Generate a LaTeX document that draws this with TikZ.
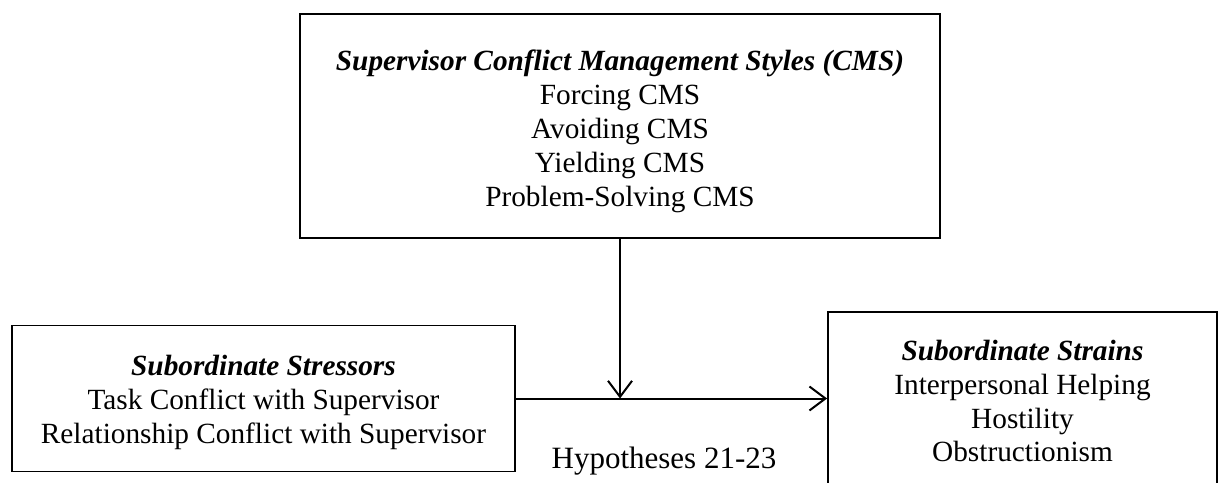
\documentclass[tikz,border=0pt]{standalone}
\usepackage{fontspec}
\setmainfont{Liberation Serif}
\usetikzlibrary{arrows.meta}
\begin{document}
\begin{tikzpicture}[x=1pt,y=-1pt,
  boxshape/.style={draw,line width=1.8pt,rectangle,inner sep=0pt},
  txt/.style={anchor=base,inner sep=0pt,font=\fontsize{29.3}{34}\selectfont},
  ttl/.style={txt,font=\fontsize{29.3}{34}\selectfont\bfseries\itshape},
  conn/.style={line width=2pt,-{Straight Barb[length=16pt,width=24pt,line width=2pt]}}]
\useasboundingbox (0,0) rectangle (1222,482);
\begin{scope}
\clip (0,0) rectangle (1222,482);
% boxes
\node[boxshape,minimum width=640pt,minimum height=224pt] (top) at (620,126) {};
\node[boxshape,minimum width=503pt,minimum height=146pt] (left) at (263.5,398.5) {};
\node[boxshape,minimum width=389pt,minimum height=173pt] (right) at (1022.5,398.5) {};
\end{scope}
% top box text
\node[ttl] (t0) at (620,70) {Supervisor Conflict Management Styles (CMS)};
\node[txt] (t1) at (620,104) {Forcing CMS};
\node[txt] (t2) at (620,138) {Avoiding CMS};
\node[txt] (t3) at (620,172) {Yielding CMS};
\node[txt] (t4) at (620,206) {Problem-Solving CMS};
% left box text
\node[ttl] (l0) at (263.5,375) {Subordinate Stressors};
\node[txt] (l1) at (263.5,409) {Task Conflict with Supervisor};
\node[txt] (l2) at (263.5,443) {Relationship Conflict with Supervisor};
% right box text
\node[ttl] (r0) at (1022.5,360) {Subordinate Strains};
\node[txt] (r1) at (1022.5,394) {Interpersonal Helping};
\node[txt] (r2) at (1022.5,428) {Hostility};
\node[txt] (r3) at (1022.5,461) {Obstructionism};
% hypotheses label
\node[txt,font=\fontsize{31}{36}\selectfont] (hyp) at (664,468) {Hypotheses 21-23};
% connectors
\coordinate (meet) at (top.south |- left.east);
\draw[conn] (left.east) -- (left.east -| right.west);
\draw[conn] (top.south) -- (meet);
\end{tikzpicture}
\end{document}
